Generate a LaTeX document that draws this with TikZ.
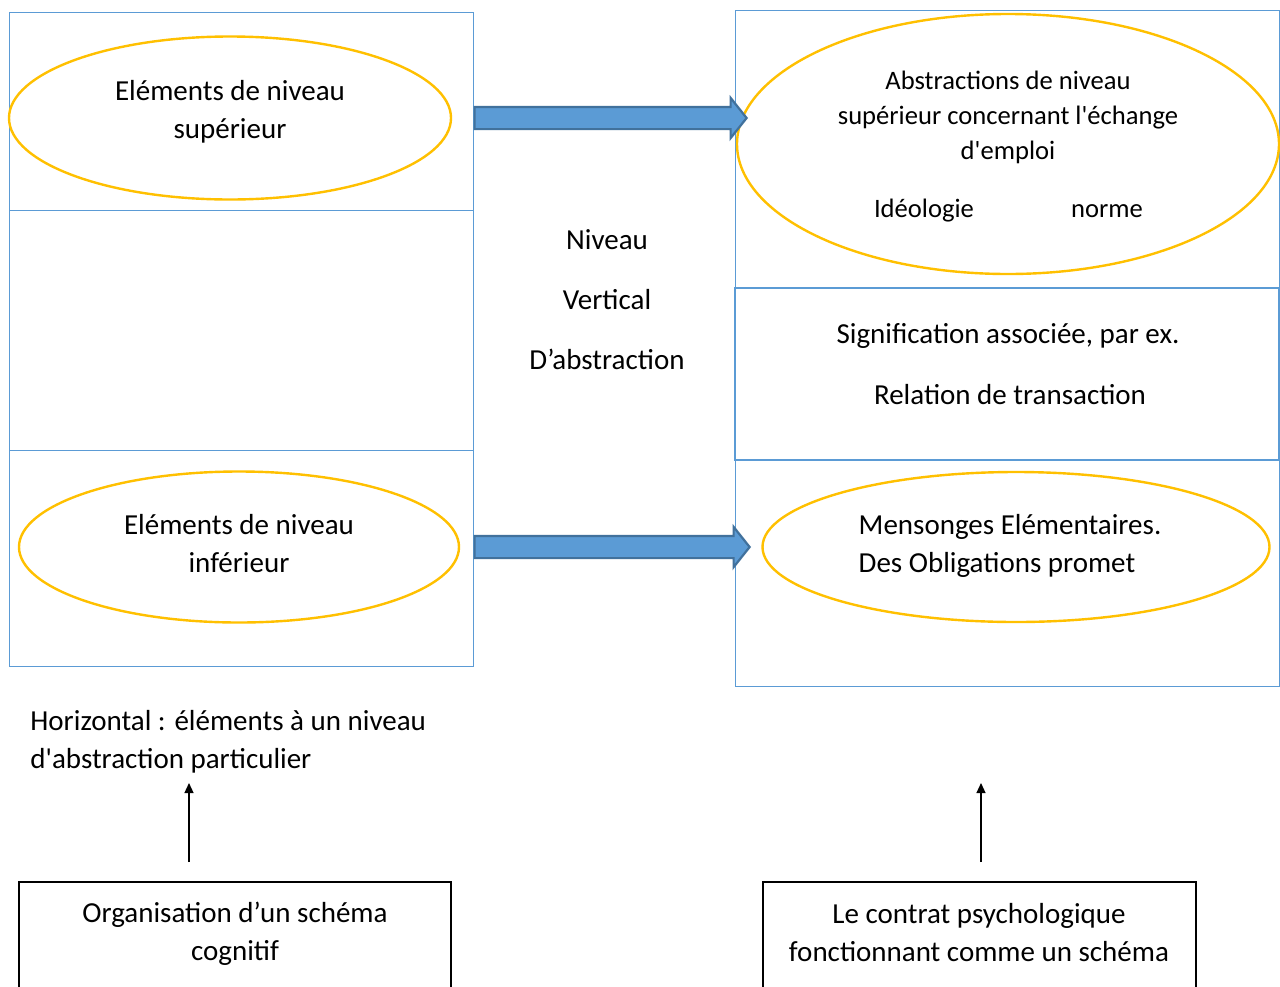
\documentclass[tikz,border=0pt]{standalone}
\usepackage{fontspec}
\setmainfont{Carlito}
\usepackage{tikz}
\usetikzlibrary{shapes.geometric,shapes.arrows,arrows.meta}
\definecolor{wblue}{HTML}{5B9BD5}
\definecolor{wdark}{HTML}{41719C}
\definecolor{wgold}{HTML}{FFC000}

\tikzset{
  colbox/.style={draw=wblue,line width=0.5pt,inner sep=0pt},
  ovalbox/.style={ellipse,draw=wgold,line width=1.2pt,inner sep=0pt},
  blockarrow/.style={single arrow,fill=wblue,draw=wdark,line width=1.1pt,
    text height=10pt,text depth=0pt,single arrow head extend=4.5pt,
    single arrow tip angle=103,inner sep=0pt,anchor=west},
  txt/.style={align=center,font=\fontsize{14.5pt}{19pt}\selectfont},
  smalltxt/.style={align=center,font=\fontsize{13.3pt}{17.5pt}\selectfont},
  uparrow/.style={line width=0.6pt,-{Triangle[length=5pt,width=4.5pt]}}
}

\begin{document}
\begin{tikzpicture}[x=0.5pt, y=-0.5pt]
  \clip (0,0) rectangle (1280,986);
  \fill[white] (0,0) rectangle (1280,986);

  % left column
  \node[colbox,minimum width=232pt,minimum height=99pt]  (lt) at (241,111) {};
  \node[colbox,minimum width=232pt,minimum height=120pt] (lm) at (241,330) {};
  \node[colbox,minimum width=232pt,minimum height=108pt] (lb) at (241,558) {};
  \node[ovalbox,minimum width=221pt,minimum height=81.5pt] (hi) at (230,118) {};
  \node[txt] (hitext) at (230,112) {Eléments de niveau\\supérieur};
  \node[ovalbox,minimum width=220pt,minimum height=75.5pt] (lo) at (239,547) {};
  \node[txt] (lotext) at (239,544) {Eléments de niveau\\inférieur};

  % right column
  \node[colbox,minimum width=272pt,minimum height=139pt] (rt) at (1007,149) {};
  \node[colbox,minimum width=272pt,minimum height=113pt] (rb) at (1007,573) {};
  \node[colbox,line width=1.1pt,minimum width=272pt,minimum height=86pt] (rm) at (1007,374) {};
  \node[ovalbox,minimum width=271pt,minimum height=130pt] (abs) at (1008,144) {};
  \node[smalltxt] (abstext) at (1008,117)
    {Abstractions de niveau\\supérieur concernant l\textquotesingle échange\\d\textquotesingle emploi};
  \node[smalltxt] (ideo) at (924,211) {Idéologie};
  \node[smalltxt] (norme) at (1107,211) {norme};
  \node[txt] (sig) at (1008,336) {Signification associée, par ex.};
  \node[txt] (rel) at (1010,395) {Relation de transaction};
  \node[ovalbox,minimum width=253.5pt,minimum height=75pt] (mens) at (1016,547) {};
  \node[txt,align=left] (menstext) at (1010,546)
    {Mensonges Elémentaires.\\Des Obligations promet};

  % block arrows
  \node[blockarrow,minimum height=136pt] (toparrow) at (lt.east |- hi.center) {};
  \node[blockarrow,minimum height=137.5pt] (lowarrow) at (lb.east |- lo.center) {};

  % middle label
  \node[txt,font=\fontsize{14.5pt}{30pt}\selectfont] (vert) at (607,300)
    {Niveau\\Vertical\\D’abstraction};

  % bottom
  \node[txt,align=left,anchor=west,inner sep=0pt] (horiz) at (30,742)
    {Horizontal : éléments à un niveau\\d\textquotesingle abstraction particulier};
  \node[draw,line width=1pt,minimum width=216pt,minimum height=64pt] (orgbox) at (235,946) {};
  \node[txt] (org) at (235,934) {Organisation d’un schéma\\cognitif};
  \node[draw,line width=1pt,minimum width=216.5pt,minimum height=64pt] (conbox) at (979.5,946) {};
  \node[txt] (con) at (979,933) {Le contrat psychologique\\fonctionnant comme un schéma};

  \coordinate (lfoot) at (189,862);
  \coordinate (lhead) at (189,783);
  \coordinate (rfoot) at (981,862);
  \coordinate (rhead) at (981,783);
  \draw[uparrow] (lfoot) -- (lhead);
  \draw[uparrow] (rfoot) -- (rhead);
\end{tikzpicture}
\end{document}
